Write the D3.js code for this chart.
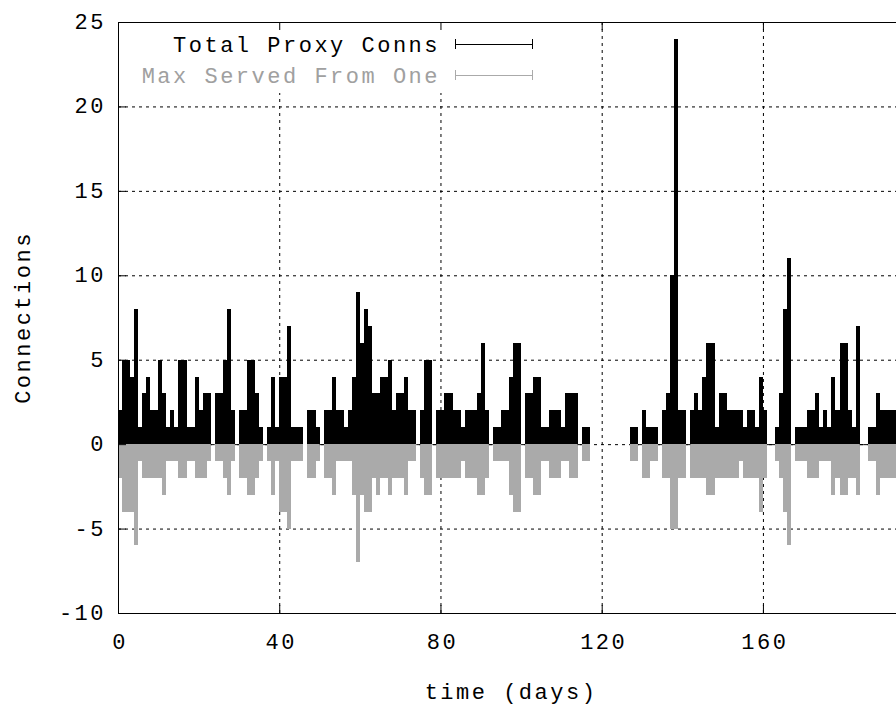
<!DOCTYPE html>
<html lang="en">
<head>
<meta charset="UTF-8">
<title>Proxy connections</title>
<script src="https://cdn.jsdelivr.net/npm/d3@7"></script>
<style>
body{margin:0;background:#fff}
svg text{font-family:"Liberation Mono",monospace;font-size:22px;letter-spacing:2.5px}
rect{shape-rendering:crispEdges}
</style>
</head>
<body>
<div id="grafica"></div>
<script>
// one value per day, null = no data that day
totalConns=[
 2,5,5,4,8,1,3,4,2,2,
 5,3,1,2,1,5,5,1,1,4,
 2,3,3,0,3,3,5,8,2,0,
 2,2,5,5,3,1,0,1,4,1,
 4,4,7,1,1,1,null,2,2,1,
 0,2,2,4,2,2,1,2,4,9,
 6,8,7,3,3,4,4,5,2,3,
 3,4,2,2,0,2,5,5,0,2,
 2,3,3,2,2,1,2,2,2,3,
 6,2,0,1,1,2,2,4,6,6,
 0,3,3,4,4,1,1,2,2,2,
 1,3,3,3,0,1,1,null,null,null,
 null,null,null,null,null,null,null,1,1,0,
 2,1,1,1,0,2,3,10,24,2,
 2,0,2,3,2,4,6,6,1,3,
 3,2,2,2,2,1,2,2,1,4,
 2,0,0,1,3,8,11,0,1,1,
 1,2,2,3,1,2,1,4,2,6,
 6,2,1,7,0,0,1,1,3,2,
 2,2,2
]
maxServed=[
 2,4,4,4,6,1,2,2,2,2,
 2,3,1,1,1,2,2,1,1,2,
 2,2,1,0,1,1,2,3,1,0,
 2,2,3,3,2,1,0,1,3,1,
 4,4,5,1,1,1,null,2,2,1,
 0,2,2,3,1,1,1,1,3,7,
 3,4,4,2,3,2,2,3,2,2,
 2,3,1,1,0,2,3,3,0,2,
 2,2,2,2,2,1,2,2,2,3,
 3,2,0,1,1,1,1,3,4,4,
 0,2,2,3,3,1,1,2,2,2,
 1,1,2,2,0,1,1,null,null,null,
 null,null,null,null,null,null,null,1,1,0,
 2,2,1,1,0,2,2,5,5,2,
 2,0,2,2,2,2,3,3,2,2,
 2,2,2,2,1,2,2,2,2,4,
 2,0,0,1,2,4,6,0,1,1,
 1,2,2,2,1,1,1,3,2,3,
 3,2,2,3,0,0,1,1,3,2,
 2,2,2
]
yTicks=[-10,-5,0,5,10,15,20,25]
xTicks=[0,40,80,120,160]
legendNames=['Total Proxy Conns','Max Served From One']

ancho=896
alto=713
gris='#aaaaaa'

svg=d3.select('#grafica')
	.append('svg')
	.attr('width',ancho)
	.attr('height',alto)

x=d3.scaleLinear().domain([0,195]).range([118,904])
y=d3.scaleLinear().domain([-10,25]).range([613,22])

// grid
svg.selectAll('.gy').data(yTicks.filter(function(d){return d>-10&&d<25}))
	.enter().append('line')
	.attr('x1',x(0)).attr('x2',x(195))
	.attr('y1',function(d){return y(d)+0.5}).attr('y2',function(d){return y(d)+0.5})
	.attr('stroke','#000').attr('stroke-dasharray','3,4')
svg.selectAll('.gx').data(xTicks.filter(function(d){return d>0}))
	.enter().append('line')
	.attr('x1',function(d){return x(d)+0.5}).attr('x2',function(d){return x(d)+0.5})
	.attr('y1',y(-10)).attr('y2',y(25))
	.attr('stroke','#000').attr('stroke-dasharray','3,4')

// bars, one per day
dias=d3.range(totalConns.length)
svg.selectAll('.mx').data(dias.filter(function(d){return maxServed[d]>0}))
	.enter().append('rect')
	.attr('x',function(d){return x(d)})
	.attr('width',function(d){return x(d+1)-x(d)})
	.attr('y',y(0))
	.attr('height',function(d){return y(-maxServed[d])-y(0)})
	.attr('fill',gris)
svg.selectAll('.tot').data(dias.filter(function(d){return totalConns[d]>0}))
	.enter().append('rect')
	.attr('x',function(d){return x(d)})
	.attr('width',function(d){return x(d+1)-x(d)})
	.attr('y',function(d){return y(totalConns[d])})
	.attr('height',function(d){return y(0)-y(totalConns[d])})
	.attr('fill','#000')
svg.selectAll('.cero').data(dias.filter(function(d){return totalConns[d]===0}))
	.enter().append('line')
	.attr('x1',function(d){return x(d)}).attr('x2',function(d){return x(d+1)})
	.attr('y1',y(0)+0.5).attr('y2',y(0)+0.5)
	.attr('stroke','#000')

// legend (opaque box)
svg.append('rect').attr('x',119).attr('y',23).attr('width',422).attr('height',70).attr('fill','#fff')
leg=svg.selectAll('.leg').data(legendNames).enter().append('g')
	.attr('transform',function(d,i){return 'translate(0,'+(44+i*31)+')'})
leg.append('text').attr('x',440).attr('y',8)
	.attr('text-anchor','end')
	.attr('fill',function(d,i){return i?'#a0a0a0':'#000'})
	.text(function(d){return d})
leg.append('path')
	.attr('d','M455.5,-5V5M455.5,0.5H532.5M532.5,-5V5')
	.attr('fill','none')
	.attr('stroke',function(d,i){return i?gris:'#000'})

// border and ticks
svg.append('path')
	.attr('d','M'+x(0)+','+(y(25)+0.5)+'H'+(x(195)+0.5)+'M'+(x(0)+0.5)+','+y(25)+'V'+y(-10)+'M'+x(0)+','+(y(-10)+0.5)+'H'+(x(195)+0.5))
	.attr('stroke','#000').attr('fill','none')
svg.selectAll('.ty').data(yTicks).enter().append('line')
	.attr('x1',x(0)).attr('x2',x(0)+8)
	.attr('y1',function(d){return y(d)+0.5}).attr('y2',function(d){return y(d)+0.5})
	.attr('stroke','#000')
svg.selectAll('.tx').data(xTicks).enter().append('path')
	.attr('d',function(d){var p=x(d)+0.5;return 'M'+p+','+y(-10)+'v-8M'+p+','+y(25)+'v8'})
	.attr('stroke','#000')

// labels
svg.selectAll('.ly').data(yTicks).enter().append('text')
	.attr('x',106).attr('y',function(d){return y(d)+7})
	.attr('text-anchor','end')
	.text(function(d){return d})
svg.selectAll('.lx').data(xTicks).enter().append('text')
	.attr('x',function(d){return x(d)+2}).attr('y',649)
	.attr('text-anchor','middle')
	.text(function(d){return d})
svg.append('text').attr('x',(x(0)+x(195))/2).attr('y',699)
	.attr('text-anchor','middle').text('time (days)')
svg.append('text')
	.attr('transform','translate(30,'+(y(7.5))+') rotate(-90)')
	.attr('text-anchor','middle').text('Connections')
</script>
</body>
</html>
